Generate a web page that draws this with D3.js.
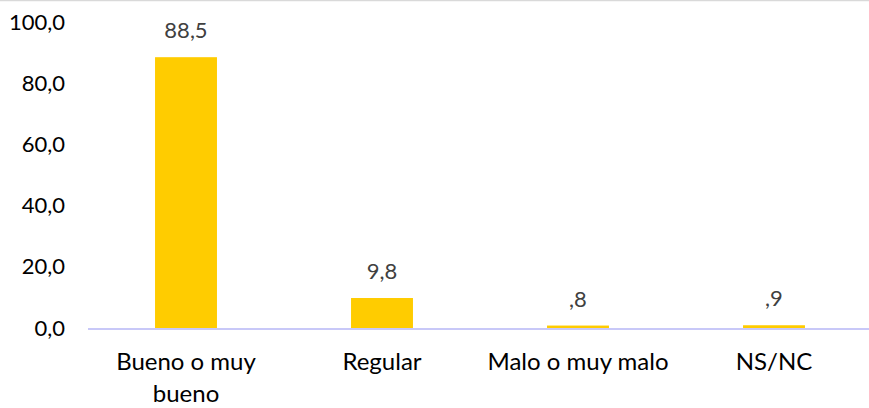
<!DOCTYPE html>
<html lang="es">
<head>
    <meta charset="UTF-8">
    <title>Valoración</title>
    <script src="https://d3js.org/d3.v7.min.js"></script>
    <style>
        body { margin: 0; background: #fff; }
        svg { display: block; font-family: Lato, "Open Sans", sans-serif; }
    </style>
</head>
<body>
    <svg width="869" height="408"></svg>
    <script>
        const categories = [["Bueno o muy", "bueno"], ["Regular"], ["Malo o muy malo"], ["NS/NC"]];
        const values = [88.5, 9.8, 0.8, 0.9];
        const yTicks = [0, 20, 40, 60, 80, 100];

        const width = 869;
        const height = 408;
        const margin = { top: 22, right: 0, bottom: 80, left: 88 };

        const svg = d3.select("svg");

        // comma decimal, no leading zero for values below 1 (",8")
        const fmt = v => {
            const s = v.toFixed(1).replace(".", ",");
            return v < 1 && v > 0 ? s.replace(/^0/, "") : s;
        };

        const x = d3.scaleBand()
            .domain(d3.range(values.length))
            .range([margin.left, margin.left + 4 * 196])
            .paddingInner(0.684)
            .paddingOuter(0.342);

        const y = d3.scaleLinear()
            .domain([0, 100])
            .range([height - margin.bottom, margin.top]);

        // top border line
        svg.append("line")
            .attr("x1", 0).attr("x2", width)
            .attr("y1", 0.5).attr("y2", 0.5)
            .attr("stroke", "#d9d9d9")
            .attr("stroke-width", 1.5);

        // y axis labels
        const yAxis = d3.axisLeft(y)
            .tickValues(yTicks)
            .tickFormat(d => d.toFixed(1).replace(".", ","))
            .tickSize(0)
            .tickPadding(0);

        const gy = svg.append("g")
            .attr("transform", "translate(65,0)")
            .call(yAxis);
        gy.select(".domain").remove();
        gy.selectAll("text")
            .attr("font-size", 22)
            .attr("font-family", "Lato, sans-serif")
            .attr("fill", "#000");

        // bars
        svg.append("g")
            .selectAll("rect")
            .data(values)
            .join("rect")
            .attr("x", (d, i) => x(i))
            .attr("width", x.bandwidth())
            .attr("y", d => y(d))
            .attr("height", d => y(0) - y(d))
            .attr("fill", "#ffcc00");

        // baseline
        svg.append("line")
            .attr("x1", margin.left).attr("x2", width)
            .attr("y1", y(0) + 1).attr("y2", y(0) + 1)
            .attr("stroke", "#c8c8f8")
            .attr("stroke-width", 2);

        // value labels
        svg.append("g")
            .selectAll("text")
            .data(values)
            .join("text")
            .attr("x", (d, i) => x(i) + x.bandwidth() / 2)
            .attr("y", d => y(d) - 19)
            .attr("text-anchor", "middle")
            .attr("font-size", 22)
            .attr("fill", "#404040")
            .text(d => fmt(d));

        // category labels
        const cat = svg.append("g")
            .selectAll("text")
            .data(categories)
            .join("text")
            .attr("x", (d, i) => x(i) + x.bandwidth() / 2)
            .attr("y", y(0) + 42)
            .attr("text-anchor", "middle")
            .attr("font-size", 24)
            .attr("fill", "#000");
        cat.selectAll("tspan")
            .data(d => d)
            .join("tspan")
            .attr("x", function () { return d3.select(this.parentNode).attr("x"); })
            .attr("dy", (d, i) => i === 0 ? 0 : 32)
            .text(d => d);
    </script>
</body>
</html>
